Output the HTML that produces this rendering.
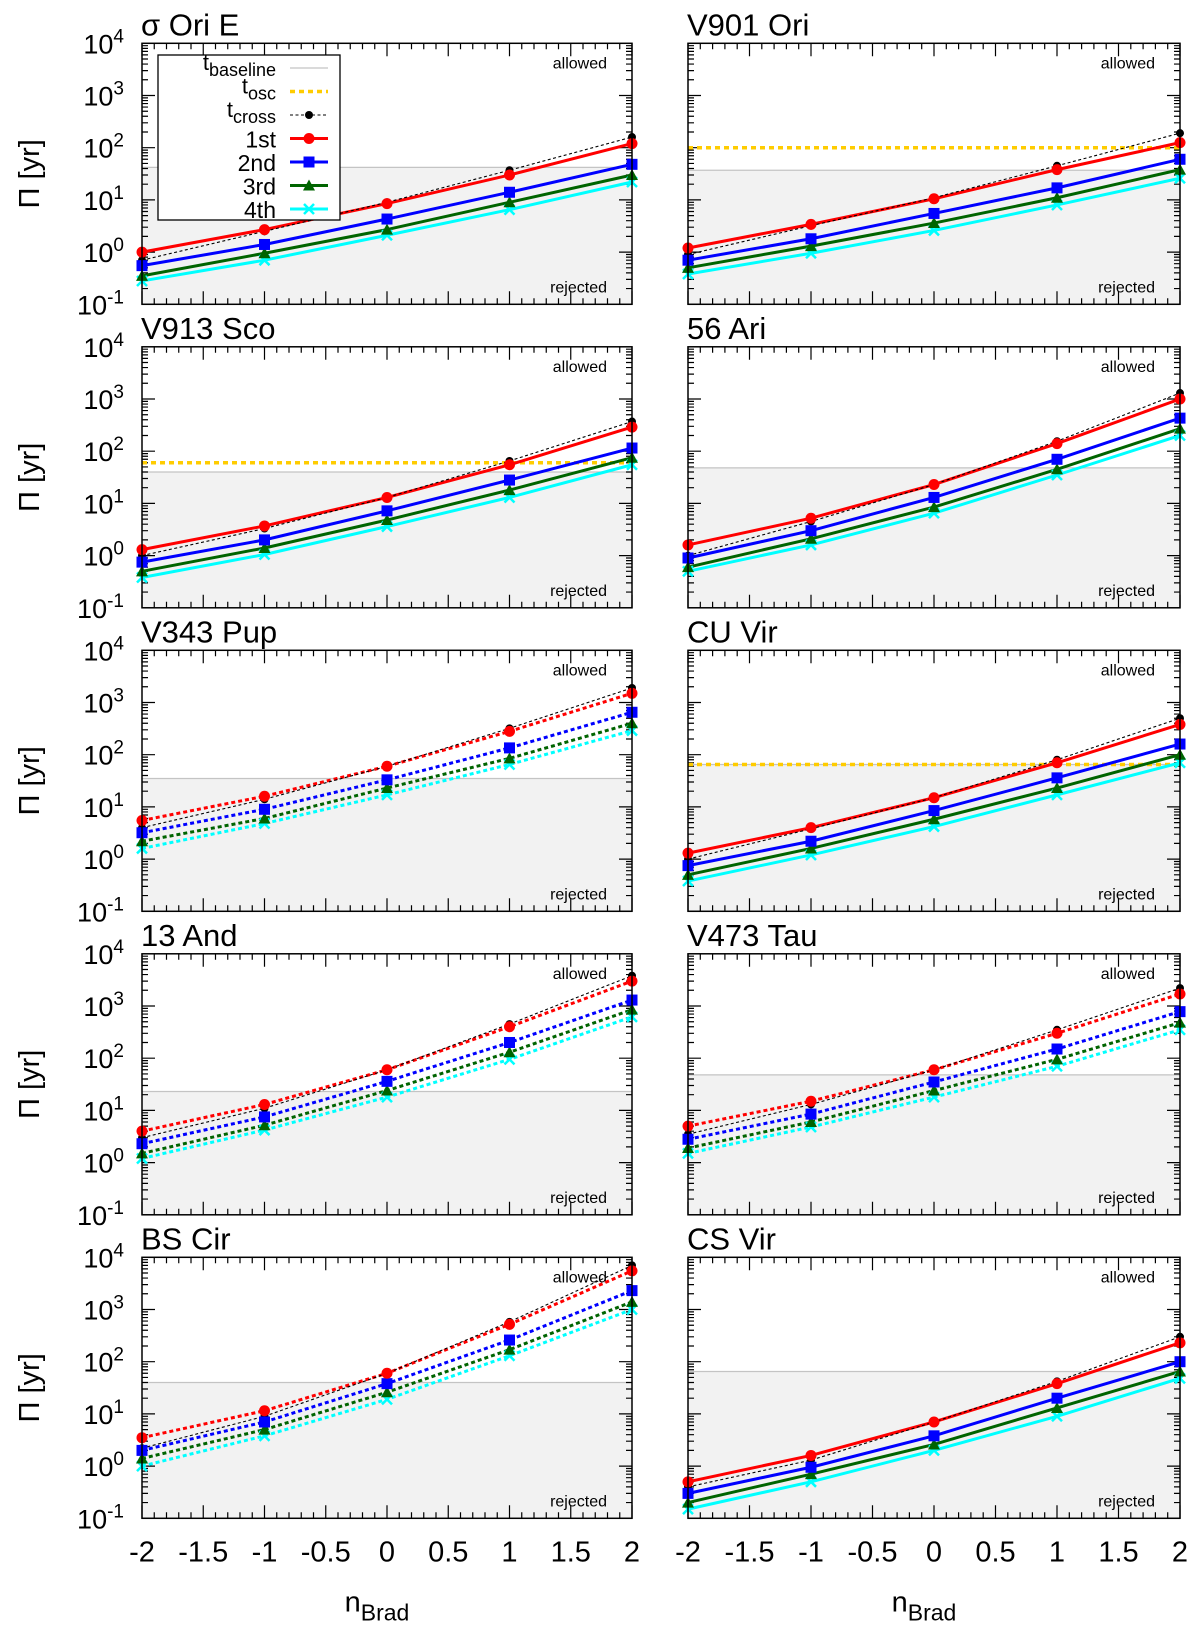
<!DOCTYPE html>
<html><head><meta charset="utf-8">
<style>
html,body{margin:0;padding:0;background:#fff;}
svg{display:block;font-family:"Liberation Sans",sans-serif;}
</style></head>
<body>
<svg id="fig" width="1200" height="1629" viewBox="0 0 1200 1629" xmlns="http://www.w3.org/2000/svg"></svg>
<script>
// ---- data ----
const xCats = [-2, -1, 0, 1, 2];
const panelNames = ["σ Ori E","V901 Ori","V913 Sco","56 Ari","V343 Pup","CU Vir","13 And","V473 Tau","BS Cir","CS Vir"];
const baselineVals = [42, 37, 40, 48, 35, 65, 23, 48, 40, 65];
const oscVals = [null, 100, 60, null, null, 65, null, null, null, null];
const dottedFlags = [false,false,false,false,true,false,true,true,true,false];
const crossVals = [
 [0.7,2.5,9,37,160],[0.9,3.2,11,45,190],[1.0,3.3,13,65,370],[1.0,4.5,23,155,1300],[4,14,60,320,1900],
 [1.0,3.8,15,80,500],[3,11,60,450,3800],[3.5,13,60,350,2200],[2.2,9,60,580,7000],[0.4,1.3,7,42,300]];
const firstVals = [
 [1.0,2.7,8.5,30,120],[1.2,3.4,10.5,38,125],[1.3,3.7,13,55,290],[1.6,5.2,23,140,1000],[5.5,16,60,280,1500],
 [1.3,4.0,15,70,380],[4,13,60,400,3000],[5,15,60,300,1700],[3.5,11.5,60,520,5500],[0.5,1.6,7,38,230]];
const secondVals = [
 [0.55,1.4,4.3,14,48],[0.7,1.8,5.5,17,60],[0.75,2.0,7.2,28,115],[0.9,3.0,13,70,430],[3.2,9,33,135,650],
 [0.75,2.2,8.5,36,160],[2.3,7.5,36,200,1300],[2.8,8.5,35,150,780],[2.0,7,38,260,2300],[0.3,0.95,3.8,20,100]];
const thirdVals = [
 [0.35,0.95,2.7,9,30],[0.5,1.3,3.6,11,38],[0.5,1.4,4.8,18,75],[0.6,2.1,8.5,45,270],[2.2,6,23,85,400],
 [0.5,1.6,5.8,23,100],[1.5,5.2,24,130,850],[1.9,6,24,95,480],[1.4,5,26,170,1400],[0.2,0.7,2.6,13,65]];
const fourthVals = [
 [0.28,0.7,2.1,6.5,22],[0.38,0.95,2.6,8,26],[0.38,1.05,3.6,13,55],[0.5,1.6,6.5,35,200],[1.6,4.8,17,65,290],
 [0.38,1.2,4.2,17,70],[1.2,4.2,18,95,620],[1.5,4.8,18,70,350],[1.0,3.8,19,130,1000],[0.15,0.5,2,9,48]];
const xTickLabels = ["-2","-1.5","-1","-0.5","0","0.5","1","1.5","2"];
const yExps = [-1,0,1,2,3,4];

// ---- layout ----
const NS="http://www.w3.org/2000/svg";
const svg=document.getElementById('fig');
const colL=[142,688], colW=[490,492], top0=43.3, pitch=303.5, PH=261;
function mk(tag,attrs,parent){const e=document.createElementNS(NS,tag);for(const k in attrs)e.setAttribute(k,attrs[k]);(parent||svg).appendChild(e);return e;}

const seriesDefs=[
 {vals:firstVals,color:"#ff0000",marker:"circle",name:"1st"},
 {vals:secondVals,color:"#0000ff",marker:"square",name:"2nd"},
 {vals:thirdVals,color:"#006400",marker:"triangle",name:"3rd"},
 {vals:fourthVals,color:"#00ffff",marker:"x",name:"4th"}];

function drawMarker(g,type,x,y,color){
  let m;
  if(type==="circle"){m=mk('circle',{cx:x,cy:y,r:5.5,fill:color},g);}
  else if(type==="square"){m=mk('rect',{x:x-5.5,y:y-5.5,width:11,height:11,fill:color},g);}
  else if(type==="triangle"){m=mk('polygon',{points:`${x},${y-6} ${x-6},${y+5} ${x+6},${y+5}`,fill:color},g);}
  else if(type==="dot"){m=mk('circle',{cx:x,cy:y,r:4,fill:color},g);}
  else {m=mk('path',{d:`M${x-5},${y-5}L${x+5},${y+5}M${x-5},${y+5}L${x+5},${y-5}`,stroke:color,'stroke-width':2.5},g);}
  return m;
}

for(let p=0;p<10;p++){
  const col=p%2,row=Math.floor(p/2);
  const L=colL[col],W=colW[col],T=top0+row*pitch,B=T+PH;
  const xs=v=>L+(v+2)/4*W;
  const ys=v=>B-(Math.log10(v)+1)/5*PH;
  const g=mk('g',{});
  
  
  const t=mk('text',{x:L-1,y:T-8,'font-size':31,fill:'#000'},g);t.textContent=panelNames[p];
  
  const yb=ys(baselineVals[p]);
  const sh=mk('rect',{x:L,y:yb,width:W,height:B-yb,fill:'#f2f2f2'},g);
  
  const bl=mk('line',{x1:L,x2:L+W,y1:yb,y2:yb,stroke:'#c4c4c4','stroke-width':1.3},g);
  
  const al=mk('text',{x:L+W-25,y:T+25,'font-size':16,'text-anchor':'end'},g);al.textContent='allowed';
  
  const rj=mk('text',{x:L+W-25,y:B-12,'font-size':16,'text-anchor':'end'},g);rj.textContent='rejected';
  
  let td='';
  for(let i=0;i<=40;i++){const v=-2+i*0.1;const x=xs(v);const len=(i%5===0)?13:6;
    td+=`M${x},${B}V${B-len}M${x},${T}V${T+len}`;}
  for(let e=-1;e<4;e++){for(let k=1;k<10;k++){const y=ys(k*Math.pow(10,e));const len=(k===1)?13:6;
    td+=`M${L},${y}H${L+len}M${L+W},${y}H${L+W-len}`;}}
  mk('path',{d:td,stroke:'#000','stroke-width':1.2,fill:'none'},g);
  if(oscVals[p]!==null){const yo=ys(oscVals[p]);
    const ol=mk('line',{x1:L,x2:L+W,y1:yo,y2:yo,stroke:'#ffcc00','stroke-width':3.5,'stroke-dasharray':'5,4'},g);
    }
  const dash=dottedFlags[p]?'4,3':null;
  for(let s=seriesDefs.length-1;s>=0;s--){
    const sd=seriesDefs[s];const vals=sd.vals[p];
    const pts=xCats.map((c,i)=>xs(c)+','+ys(vals[i])).join(' ');
    const a={points:pts,fill:'none',stroke:sd.color,'stroke-width':3};if(dash)a['stroke-dasharray']=dash;
    const pl=mk('polyline',a,g);
    
  }
  const cv=crossVals[p];
  const cl=mk('polyline',{points:xCats.map((c,i)=>xs(c)+','+ys(cv[i])).join(' '),fill:'none',stroke:'#000','stroke-width':1.1,'stroke-dasharray':'3,2.5'},g);
  
  xCats.forEach((c,i)=>{const m=drawMarker(g,'dot',xs(c),ys(cv[i]),'#000');
    });
  for(let s=seriesDefs.length-1;s>=0;s--){const sd=seriesDefs[s];
    xCats.forEach((c,i)=>{const m=drawMarker(g,sd.marker,xs(c),ys(sd.vals[p][i]),sd.color);
      });}
  const fr=mk('rect',{x:L,y:T,width:W,height:PH,fill:'none',stroke:'#000','stroke-width':1.5},g);
  
  if(col===0){
    yExps.forEach(e=>{const y=ys(Math.pow(10,e));
      const tx=mk('text',{x:L-18,y:y+10,'font-size':27,'text-anchor':'end'},g);
      
      const a=document.createElementNS(NS,'tspan');a.textContent='10';tx.appendChild(a);
      const b=document.createElementNS(NS,'tspan');b.setAttribute('dy','-11');b.setAttribute('font-size','19');b.textContent=String(e);tx.appendChild(b);
    });
    const yt=mk('text',{x:0,y:0,'font-size':29,'text-anchor':'middle',transform:`translate(${L-103},${T+PH/2}) rotate(-90)`},g);
    yt.textContent='Π [yr]';
  }
  if(row===4){
    xTickLabels.forEach((lb,i)=>{const tx=mk('text',{x:xs(-2+i*0.5),y:B+43,'font-size':29,'text-anchor':'middle'},g);
      tx.textContent=lb;});
    const xt=mk('text',{x:xs(0)-10,y:B+93,'font-size':29,'text-anchor':'middle'},g);
    
    const a=document.createElementNS(NS,'tspan');a.textContent='n';xt.appendChild(a);
    const b=document.createElementNS(NS,'tspan');b.setAttribute('dy','9');b.setAttribute('font-size','23');b.textContent='Brad';xt.appendChild(b);
  }
}

const lg=mk('g',{});

mk('rect',{x:158,y:55,width:182,height:165,fill:'#fff',stroke:'#000','stroke-width':1.3},lg);
const legItems=[
 {sub:'baseline',kind:'base'},{sub:'osc',kind:'osc'},{sub:'cross',kind:'cross'},
 {txt:'1st',s:0},{txt:'2nd',s:1},{txt:'3rd',s:2},{txt:'4th',s:3}];
legItems.forEach((it,i)=>{
  const y=68+i*23.5;
  const e=mk('g',{},lg);
  
  
  const tx=mk('text',{x:276,y:y+9,'font-size':it.txt?23:22,'text-anchor':'end'},e);
  if(it.txt){tx.textContent=it.txt;}
  else{const a=document.createElementNS(NS,'tspan');a.textContent='t';tx.appendChild(a);
    const b=document.createElementNS(NS,'tspan');b.setAttribute('dy','6');b.setAttribute('font-size','18');b.textContent=it.sub;tx.appendChild(b);
    tx.setAttribute('y',y+2);}
  const x1=290,x2=328;
  if(it.kind==='base')mk('line',{x1,x2,y1:y,y2:y,stroke:'#c4c4c4','stroke-width':1.3},e);
  else if(it.kind==='osc')mk('line',{x1,x2,y1:y,y2:y,stroke:'#ffcc00','stroke-width':3.5,'stroke-dasharray':'5,4'},e);
  else if(it.kind==='cross'){mk('line',{x1,x2,y1:y,y2:y,stroke:'#000','stroke-width':1.1,'stroke-dasharray':'3,2.5'},e);drawMarker(e,'dot',309,y,'#000');}
  else{const sd=seriesDefs[it.s];mk('line',{x1,x2,y1:y,y2:y,stroke:sd.color,'stroke-width':3},e);drawMarker(e,sd.marker,309,y,sd.color);}
});
</script>
</body></html>
